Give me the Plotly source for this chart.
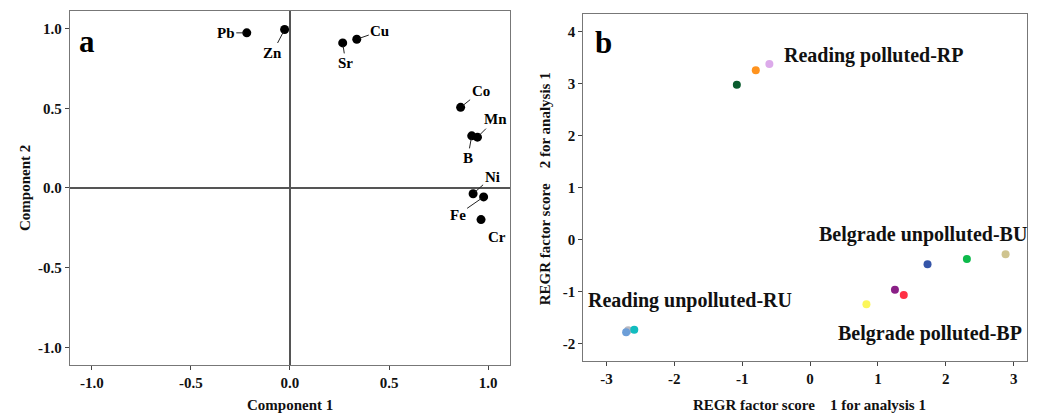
import plotly.graph_objects as go

# Panel a: component loadings
elements = ["Pb", "Zn", "Sr", "Cu", "Co", "Mn", "B", "Ni", "Fe", "Cr"]
comp1 = [-0.218, -0.027, 0.266, 0.337, 0.861, 0.946, 0.917, 0.924, 0.977, 0.964]
comp2 = [0.973, 0.994, 0.910, 0.933, 0.506, 0.319, 0.327, -0.036, -0.056, -0.198]
# label offsets (pixels) for leader lines
label_dx = [-21, -12, 3, 23, 20, 18, -4, 19, -26, 16]
label_dy = [0, 23, 20, -8, -16, -18, 22, -17, 18, 17]

# Panel b: factor scores
score1 = [-1.079, -0.80, -0.60, 1.73, 2.31, 2.88, 1.25, 1.38, 0.83, -2.68, -2.71, -2.59]
score2 = [2.98, 3.26, 3.38, -0.47, -0.37, -0.28, -0.96, -1.06, -1.24, -1.74, -1.78, -1.73]
score_colors = ["#0a5c2e", "#ff931e", "#dcaaea", "#3555a8", "#0dba4b", "#cfc48f",
                "#8a1f86", "#ff3045", "#fbf65a", "#b8b8c0", "#6c9ed8", "#12bcbf"]
group_labels = ["Reading polluted-RP", "Belgrade unpolluted-BU",
                "Reading unpolluted-RU", "Belgrade polluted-BP"]
group_x = [0.94, 1.67, -1.77, 1.76]
group_y = [3.54, 0.11, -1.17, -1.81]

a_ticks = [-1.0, -0.5, 0.0, 0.5, 1.0]
a_ticktext = ["-1.0", "-0.5", "0.0", "0.5", "1.0"]
b_xticks = [-3, -2, -1, 0, 1, 2, 3]
b_yticks = [-2, -1, 0, 1, 2, 3, 4]

FONT = "Liberation Serif"
fig = go.Figure()

fig.add_trace(go.Scatter(x=comp1, y=comp2, mode="markers",
                         marker=dict(color="black", size=9),
                         xaxis="x", yaxis="y", showlegend=False, hoverinfo="skip"))
fig.add_trace(go.Scatter(x=score1, y=score2, mode="markers",
                         marker=dict(color=score_colors, size=8),
                         xaxis="x2", yaxis="y2", showlegend=False, hoverinfo="skip"))

annotations = []
for name, x, y, dx, dy in zip(elements, comp1, comp2, label_dx, label_dy):
    annotations.append(dict(x=x, y=y, xref="x", yref="y", text=name,
                            showarrow=True, arrowhead=0, arrowwidth=1, arrowcolor="#222",
                            ax=dx, ay=dy, standoff=3,
                            font=dict(family=FONT, size=15, color="black", weight="bold")))
for t, x, y in zip(group_labels, group_x, group_y):
    annotations.append(dict(x=x, y=y, xref="x2", yref="y2", text=t, showarrow=False,
                            font=dict(family=FONT, size=20, color="#111", weight="bold")))


def paper_note(x, y, text, font, angle=0):
    return dict(x=x, y=y, xref="paper", yref="paper", text=text, showarrow=False,
                xanchor="center", yanchor="middle", textangle=angle, font=font)


letter_font = dict(family=FONT, size=31, color="black", weight="bold")
title_font = dict(family=FONT, size=15, color="#111", weight="bold")
annotations += [
    paper_note(0.0758, 0.917, "a", letter_font),
    paper_note(0.5737, 0.915, "b", letter_font),
    paper_note(0.2717, 0.0246, "Component 1", title_font),
    paper_note(0.0164, 0.5577, "Component 2", title_font, -90),
    paper_note(0.7722, 0.0246, "REGR factor score\u00a0\u00a0\u00a0\u00a01 for analysis 1", title_font),
    paper_note(0.5173, 0.557, "REGR factor score\u00a0\u00a0\u00a0\u00a02 for analysis 1", title_font, -90),
]

tick_font = dict(family=FONT, size=15, color="#111", weight="bold")
axis_common = dict(showgrid=False, showline=True, linecolor="#777", linewidth=1.2,
                   mirror=True, ticks="outside", ticklen=4, tickcolor="#444",
                   tickfont=tick_font, automargin=False)

fig.update_layout(
    width=1038, height=407,
    margin=dict(l=0, r=0, t=0, b=0, autoexpand=False),
    paper_bgcolor="white", plot_bgcolor="white",
    xaxis=dict(domain=[0.0597, 0.4836], range=[-1.11, 1.11],
               tickvals=a_ticks, ticktext=a_ticktext,
               zeroline=True, zerolinecolor="#555", zerolinewidth=1.5, **axis_common),
    yaxis=dict(domain=[0.1229, 0.9926], range=[-1.11, 1.11],
               tickvals=a_ticks, ticktext=a_ticktext,
               zeroline=True, zerolinecolor="#555", zerolinewidth=1.5, **axis_common),
    xaxis2=dict(domain=[0.5543, 0.9820], range=[-3.34, 3.2], anchor="y2",
                tickvals=b_xticks, ticktext=[str(v) for v in b_xticks],
                zeroline=False, **axis_common),
    yaxis2=dict(domain=[0.1327, 0.9853], range=[-2.33, 4.34], anchor="x2",
                tickvals=b_yticks, ticktext=[str(v) for v in b_yticks],
                zeroline=False, **axis_common),
    annotations=annotations,
)

fig.write_html("out.html")
